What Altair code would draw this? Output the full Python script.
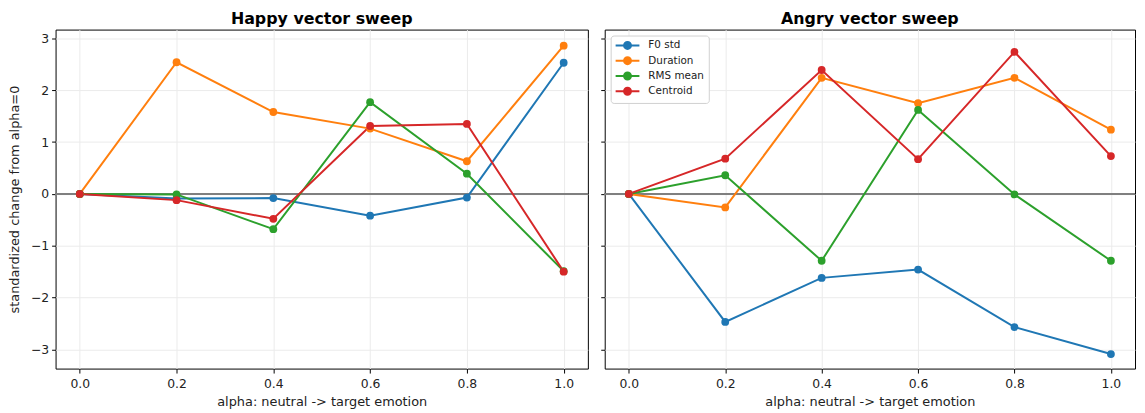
import altair as alt
import pandas as pd

alphas = [0.0, 0.2, 0.4, 0.6, 0.8, 1.0]
features = ["F0 std", "Duration", "RMS mean", "Centroid"]
colors = ["#1f77b4", "#ff7f0e", "#2ca02c", "#d62728"]

happy_f0 = [0.0, -0.09, -0.08, -0.42, -0.07, 2.53]
happy_dur = [0.0, 2.54, 1.58, 1.26, 0.63, 2.86]
happy_rms = [0.0, -0.01, -0.68, 1.77, 0.39, -1.49]
happy_cen = [0.0, -0.12, -0.48, 1.31, 1.35, -1.50]

angry_f0 = [0.0, -2.47, -1.62, -1.46, -2.57, -3.09]
angry_dur = [0.0, -0.26, 2.24, 1.75, 2.24, 1.24]
angry_rms = [0.0, 0.36, -1.29, 1.62, -0.01, -1.29]
angry_cen = [0.0, 0.68, 2.39, 0.67, 2.74, 0.73]

y_ticks = [-3, -2, -1, 0, 1, 2, 3]
x_ticks = alphas


def make_df(series):
    rows = []
    for order, (name, vals) in enumerate(zip(features, series)):
        for a, v in zip(alphas, vals):
            rows.append({"alpha": a, "value": v, "feature": name, "order": order})
    return pd.DataFrame(rows)


happy_df = make_df([happy_f0, happy_dur, happy_rms, happy_cen])
angry_df = make_df([angry_f0, angry_dur, angry_rms, angry_cen])

# line with a dot, shifted right so the legend box starts at the line's left end
legend_path = "M-1,0L3.8,0M0.7,0A0.7,0.7,0,1,1,2.1,0A0.7,0.7,0,1,1,0.7,0Z"


def panel(df, title, show_y, show_legend, width):
    x = alt.X(
        "alpha:Q",
        title="alpha: neutral -> target emotion",
        scale=alt.Scale(domain=[-0.05, 1.05], nice=False, zero=False),
        axis=alt.Axis(values=x_ticks, format=".1f", labelPadding=5, titlePadding=5, tickSize=4.5),
    )
    if show_y:
        yaxis = alt.Axis(values=y_ticks, title="standardized change from alpha=0", titlePadding=9)
    else:
        yaxis = alt.Axis(values=y_ticks, labels=False, title=None, labelPadding=0)
    y = alt.Y(
        "value:Q",
        scale=alt.Scale(domain=[-3.37, 3.17], nice=False, zero=False),
        axis=yaxis,
    )
    if show_legend:
        leg = alt.Legend(
            title=None,
            orient="top-left",
            offset=6,
            fillColor="white",
            strokeColor="#d0d0d0",
            cornerRadius=3,
            padding=4,
            labelFontSize=10.5,
            labelFont="DejaVu Sans",
            labelColor="#222222",
            symbolType=legend_path,
            symbolSize=100,
            symbolStrokeWidth=2,
            rowPadding=-0.6,
            labelOffset=22,
        )
    else:
        leg = None
    color = alt.Color(
        "feature:N",
        scale=alt.Scale(domain=features, range=colors),
        legend=leg,
        sort=features,
    )
    zero = alt.Chart(df).mark_rule(color="#7f7f7f", strokeWidth=1.5).encode(y=alt.datum(0))
    lines = alt.Chart(df).mark_line(strokeWidth=2).encode(
        x=x, y=y, color=color, order=alt.Order("alpha:Q"), detail="order:O"
    )
    pts = alt.Chart(df).mark_point(filled=True, size=62, opacity=1).encode(
        x=x, y=y, color=color
    )
    return alt.layer(zero, lines, pts).properties(
        width=width,
        height=342,
        title=alt.TitleParams(title, fontSize=16, fontWeight="bold", font="DejaVu Sans", offset=3),
    )


left = panel(happy_df, "Happy vector sweep", True, False, 537)
right = panel(angry_df, "Angry vector sweep", False, True, 535)

chart = (
    alt.hconcat(left, right, spacing=10)
    .resolve_scale(color="independent")
    .properties(padding={"left": 0, "top": 0, "right": 0, "bottom": 0})
    .configure_view(stroke="#000000", strokeWidth=1)
    .configure_axis(
        domain=False,
        grid=True,
        gridColor="#ebebeb",
        gridWidth=1,
        tickColor="#000000",
        tickSize=4,
        labelFont="DejaVu Sans",
        labelFontSize=12.5,
        labelColor="#222222",
        labelPadding=3,
        titleFont="DejaVu Sans",
        titleFontSize=13,
        titleFontWeight="normal",
        titleColor="#222222",
        titlePadding=3,
    )
)

chart.save("out.html", embed_options={"renderer": "svg", "actions": False})
